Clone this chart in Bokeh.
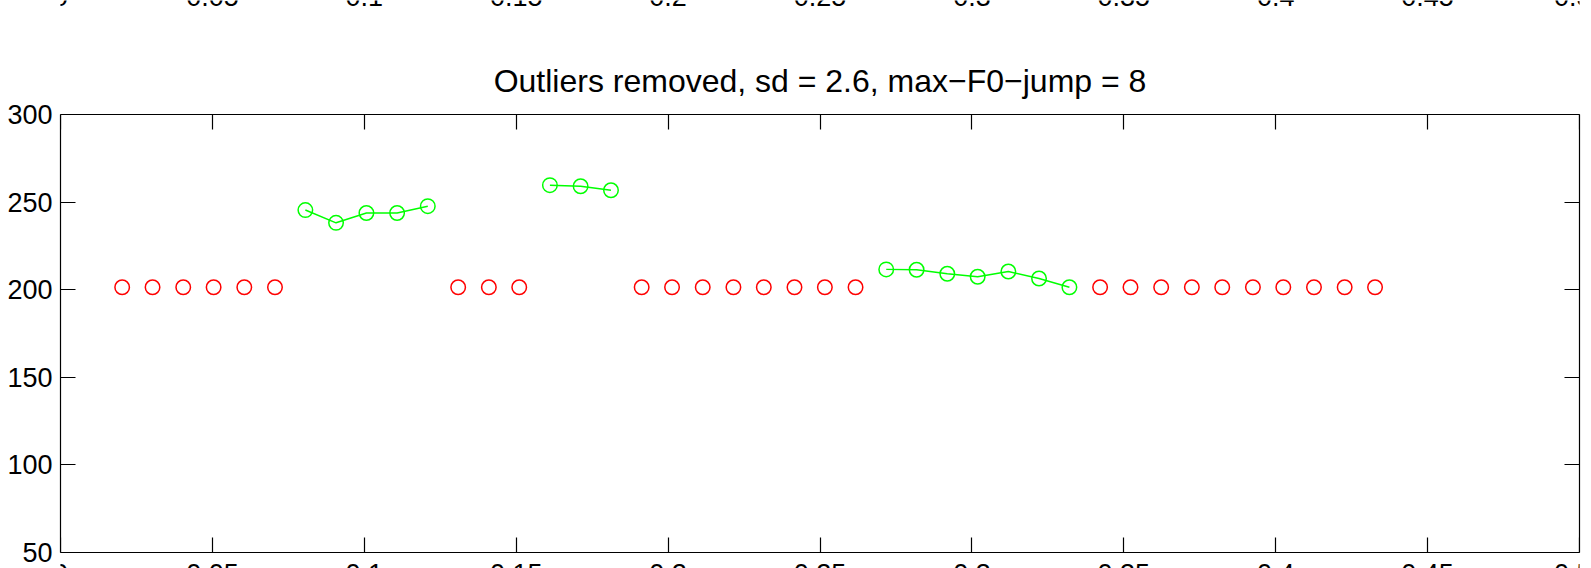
from bokeh.plotting import figure
from bokeh.models import Range1d, LinearAxis, FixedTicker, ColumnDataSource, CustomJSTickFormatter, Label
from bokeh.embed import file_html
from bokeh.resources import INLINE

NaN = float("nan")

# frame times (s)
times = [0.0203, 0.0303, 0.0404, 0.0504, 0.0605, 0.0706, 0.0806, 0.0907, 0.1007, 0.1108,
         0.1209, 0.1309, 0.1410, 0.1510, 0.1611, 0.1712, 0.1812, 0.1913, 0.2013, 0.2114,
         0.2215, 0.2315, 0.2416, 0.2516, 0.2617, 0.2718, 0.2818, 0.2919, 0.3019, 0.3120,
         0.3221, 0.3321, 0.3422, 0.3522, 0.3623, 0.3724, 0.3824, 0.3925, 0.4025, 0.4126,
         0.4227, 0.4327]

# removed outliers (red circles), NaN where kept
f0_removed = [201.3, 201.3, 201.3, 201.3, 201.3, 201.3, NaN, NaN, NaN, NaN,
              NaN, 201.3, 201.3, 201.3, NaN, NaN, NaN, 201.3, 201.3, 201.3,
              201.3, 201.3, 201.3, 201.3, 201.3, NaN, NaN, NaN, NaN, NaN,
              NaN, NaN, 201.3, 201.3, 201.3, 201.3, 201.3, 201.3, 201.3, 201.3,
              201.3, 201.3]

# kept F0 values (green circles + line), NaN where removed
f0_kept = [NaN, NaN, NaN, NaN, NaN, NaN, 245.4, 238.1, 243.7, 243.7,
           247.6, NaN, NaN, NaN, 259.6, 259.0, 256.7, NaN, NaN, NaN,
           NaN, NaN, NaN, NaN, NaN, 211.5, 211.3, 209.0, 207.3, 210.3,
           206.3, 201.3, NaN, NaN, NaN, NaN, NaN, NaN, NaN, NaN,
           NaN, NaN]

x_ticks = [0, 0.05, 0.1, 0.15, 0.2, 0.25, 0.3, 0.35, 0.4, 0.45, 0.5]
y_ticks = [50, 100, 150, 200, 250, 300]
title_text = "Outliers removed, sd = 2.6, max\u2212F0\u2212jump = 8"

FONT = "Liberation Sans"
X0, X1 = 0, 0.5
Y0, Y1 = 50, 300
PX_PER_UNIT = 437.5 / (Y1 - Y0)          # axes box is 437.5 px tall
# the drawing area spans the full page height; the axes box sits inside it
y_lo = Y0 - 16.5 / PX_PER_UNIT
y_hi = Y1 + 114 / PX_PER_UNIT

p = figure(width=1591, height=568, output_backend="svg", toolbar_location=None,
           x_range=Range1d(X0, X1), y_range=Range1d(y_lo, y_hi),
           x_axis_location=None, y_axis_location=None,
           min_border_left=60, min_border_right=12, min_border_top=0, min_border_bottom=0)
p.xgrid.visible = False
p.ygrid.visible = False
p.outline_line_color = None
p.background_fill_color = "white"
p.border_fill_color = "white"


def make_axis(ticks, show_labels, **kw):
    ax = LinearAxis(ticker=FixedTicker(ticks=ticks), **kw)
    ax.axis_line_color = "black"
    ax.axis_line_width = 1.2
    ax.major_tick_line_color = "black"
    ax.major_tick_line_width = 1.2
    ax.major_tick_in = 15
    ax.major_tick_out = 0
    ax.minor_tick_line_color = None
    if show_labels:
        ax.major_label_text_font = FONT
        ax.major_label_text_font_size = "27px"
        ax.major_label_text_color = "black"
    else:
        ax.formatter = CustomJSTickFormatter(code="return ''")
        ax.major_label_text_font_size = "1px"
        ax.major_label_standoff = 0
    return ax


yl = make_axis(y_ticks, True, bounds=(Y0, Y1))
yl.major_label_standoff = 8
p.add_layout(yl, "left")
p.add_layout(make_axis(y_ticks, False, bounds=(Y0, Y1)), "right")

xb = make_axis(x_ticks, True, fixed_location=Y0, bounds=(X0, X1))
xb.major_label_standoff = 12
p.add_layout(xb, "below")
p.add_layout(make_axis(x_ticks, False, fixed_location=Y1, bounds=(X0, X1)), "above")

# tick labels of the subplot above (only their lower edge shows at the top)
prev = make_axis(x_ticks, True, fixed_location=355.3)
prev.axis_line_color = None
prev.major_tick_line_color = None
prev.major_label_standoff = 12
p.add_layout(prev, "above")

p.add_layout(Label(x=(X0 + X1) / 2, y=Y1 + 34 / PX_PER_UNIT, text=title_text,
                   text_align="center", text_baseline="alphabetic", text_font=FONT,
                   text_font_size="32px", text_color="black"))

src = ColumnDataSource(dict(t=times, removed=f0_removed, kept=f0_kept))

p.line("t", "kept", source=src, line_color="#00ff00", line_width=1.5)
p.scatter("t", "kept", source=src, marker="circle", size=14.5,
          fill_color=None, line_color="#00ff00", line_width=1.5)
p.scatter("t", "removed", source=src, marker="circle", size=14.5,
          fill_color=None, line_color="#ff0000", line_width=1.5)

open("out.html", "w").write(file_html(p, INLINE))
